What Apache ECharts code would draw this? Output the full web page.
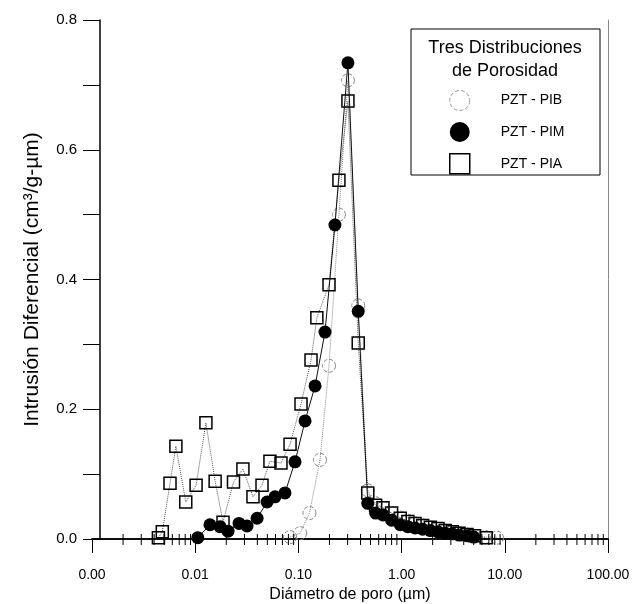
<!DOCTYPE html>
<html>
<head>
<meta charset="utf-8">
<script src="https://cdn.jsdelivr.net/npm/echarts@6/dist/echarts.min.js"></script>
<style>
  html, body { margin: 0; padding: 0; background: #fff; }
  #main { width: 634px; height: 604px; }
</style>
</head>
<body>
<div id="main"></div>
<script>
// Diámetro de poro (µm) y intrusión diferencial para cada muestra
var pibX = [0.083, 0.104, 0.128, 0.162, 0.198, 0.247, 0.302, 0.38, 0.47, 0.56, 0.66, 0.80, 0.97, 1.15, 1.35, 1.6, 1.9, 2.25, 2.65, 3.1, 3.6, 4.3, 5.1, 6.5, 8.4];
var pibY = [0.003, 0.009, 0.040, 0.122, 0.267, 0.500, 0.707, 0.360, 0.075, 0.055, 0.048, 0.040, 0.033, 0.028, 0.024, 0.021, 0.018, 0.016, 0.013, 0.011, 0.009, 0.007, 0.005, 0.003, 0.002];

var pimX = [0.0106, 0.0139, 0.0174, 0.0208, 0.0266, 0.0318, 0.0398, 0.0497, 0.0593, 0.0741, 0.0927, 0.116, 0.145, 0.181, 0.226, 0.302, 0.38, 0.47, 0.56, 0.66, 0.80, 0.97, 1.15, 1.35, 1.6, 1.9, 2.25, 2.65, 3.1, 3.6, 4.3, 5.0];
var pimY = [0.002, 0.022, 0.019, 0.012, 0.024, 0.020, 0.032, 0.057, 0.065, 0.071, 0.119, 0.182, 0.236, 0.319, 0.484, 0.734, 0.351, 0.055, 0.040, 0.037, 0.029, 0.022, 0.019, 0.017, 0.015, 0.013, 0.011, 0.009, 0.008, 0.006, 0.005, 0.003];

var piaX = [0.0044, 0.0048, 0.0057, 0.0065, 0.0081, 0.0102, 0.0127, 0.0156, 0.0186, 0.0235, 0.029, 0.0363, 0.0444, 0.053, 0.0678, 0.083, 0.106, 0.1325, 0.151, 0.198, 0.247, 0.302, 0.38, 0.47, 0.56, 0.66, 0.80, 0.97, 1.15, 1.35, 1.6, 1.9, 2.25, 2.65, 3.1, 3.6, 4.3, 5.1, 6.6];
var piaY = [0.002, 0.011, 0.086, 0.143, 0.057, 0.083, 0.179, 0.089, 0.026, 0.088, 0.108, 0.065, 0.083, 0.120, 0.117, 0.146, 0.208, 0.276, 0.341, 0.392, 0.553, 0.675, 0.302, 0.071, 0.052, 0.048, 0.040, 0.032, 0.027, 0.024, 0.021, 0.018, 0.016, 0.013, 0.011, 0.009, 0.007, 0.005, 0.002];

var seriesNames = ['PZT - PIB', 'PZT - PIM', 'PZT - PIA'];
var legendTitle = 'Tres Distribuciones\nde Porosidad';

function pairs(xs, ys) {
  return xs.map(function (x, i) { return [x, ys[i]]; });
}

// marcas menores del eje log (2..9 por década)
var minorTicks = [];
for (var n = -3; n <= 1; n++) {
  for (var k = 2; k <= 9; k++) {
    minorTicks.push([k * Math.pow(10, n), 0]);
  }
}

var font = 'Liberation Sans, Arial, sans-serif';
var myChart = echarts.init(document.getElementById('main'));

var option = {
  backgroundColor: '#fff',
  animation: false,
  grid: { left: 92, right: 26, top: 20, bottom: 65, outerBoundsMode: 'none', containLabel: false },
  xAxis: [{
    type: 'log',
    logBase: 10,
    min: 0.001,
    max: 100,
    name: 'Diámetro de poro (µm)',
    nameLocation: 'middle',
    nameGap: 47,
    nameTextStyle: { fontFamily: font, fontSize: 16, color: '#000' },
    axisLine: { show: true, lineStyle: { color: '#000', width: 1.5 } },
    axisTick: { show: true, length: 14, lineStyle: { color: '#000', width: 1 } },
    axisLabel: {
      margin: 29,
      fontFamily: font, fontSize: 14, color: '#000',
      formatter: function (v) { return v.toFixed(2); }
    },
    splitLine: { show: false }
  }, {
    type: 'log',
    logBase: 10,
    min: 0.001,
    max: 100,
    position: 'top',
    axisLine: { show: true, lineStyle: { color: '#000', width: 1.5 } },
    axisTick: { show: false },
    axisLabel: { show: false },
    splitLine: { show: false }
  }],
  yAxis: [{
    type: 'value',
    min: 0,
    max: 0.8,
    interval: 0.2,
    offset: -8,
    name: 'Intrusión Diferencial (cm³/g-µm)',
    nameLocation: 'middle',
    nameGap: 57,
    nameTextStyle: { fontFamily: font, fontSize: 21, color: '#000' },
    axisLine: { show: true, lineStyle: { color: '#000', width: 1.5 } },
    axisTick: { show: true, length: 17, lineStyle: { color: '#000', width: 1 } },
    minorTick: { show: true, splitNumber: 2, length: 17, lineStyle: { color: '#000', width: 1 } },
    axisLabel: {
      margin: 23,
      fontFamily: font, fontSize: 15, color: '#000',
      formatter: function (v) { return v.toFixed(1); }
    },
    splitLine: { show: false }
  }, {
    type: 'value',
    min: 0,
    max: 0.8,
    position: 'right',
    axisLine: { show: true, lineStyle: { color: '#888', width: 1 } },
    axisTick: { show: false },
    axisLabel: { show: false },
    splitLine: { show: false }
  }],
  legend: {
    orient: 'vertical',
    left: 449,
    top: 90,
    padding: 0,
    itemGap: 11,
    itemWidth: 20,
    itemHeight: 20,
    textStyle: { fontFamily: font, fontSize: 14, color: '#000', padding: [0, 0, 0, 26] },
    data: [
      { name: seriesNames[0], icon: 'circle', itemStyle: { color: '#fff', borderColor: '#999', borderWidth: 1, borderType: 'dashed' } },
      { name: seriesNames[1], icon: 'circle', itemStyle: { color: '#000', borderColor: '#000', borderWidth: 0 } },
      { name: seriesNames[2], icon: 'rect', itemStyle: { color: '#fff', borderColor: '#000', borderWidth: 1.5 } }
    ]
  },
  graphic: [{
    type: 'rect',
    shape: { x: 411, y: 29, width: 189, height: 146 },
    style: { fill: '#fff', stroke: '#000', lineWidth: 1 },
    z: 0
  }, {
    type: 'text',
    x: 505,
    y: 37,
    style: {
      text: legendTitle,
      fontFamily: font, fontSize: 18, fill: '#000',
      align: 'center', lineHeight: 23
    },
    z: 1
  }],
  series: [{
    name: seriesNames[0],
    type: 'line',
    data: pairs(pibX, pibY),
    symbol: 'circle',
    symbolSize: 13,
    itemStyle: { color: 'rgba(255,255,255,0)', borderColor: '#888', borderWidth: 1, borderType: 'dashed' },
    lineStyle: { color: '#888', width: 1, type: 'dotted' },
    z: 3
  }, {
    name: seriesNames[2],
    type: 'line',
    data: pairs(piaX, piaY),
    symbol: 'rect',
    symbolSize: 12,
    itemStyle: { color: 'rgba(255,255,255,0)', borderColor: '#000', borderWidth: 1.5 },
    lineStyle: { color: '#555', width: 1, type: 'dotted' },
    z: 4
  }, {
    name: seriesNames[1],
    type: 'line',
    data: pairs(pimX, pimY),
    symbol: 'circle',
    symbolSize: 13,
    itemStyle: { color: '#000', borderColor: '#000', borderWidth: 0 },
    lineStyle: { color: '#111', width: 1 },
    z: 5
  }, {
    type: 'custom',
    silent: true,
    clip: false,
    data: minorTicks,
    renderItem: function (params, api) {
      var p = api.coord([api.value(0), 0]);
      return {
        type: 'line',
        shape: { x1: p[0], y1: p[1] - 5, x2: p[0], y2: p[1] + 6 },
        style: { stroke: '#000', lineWidth: 1 }
      };
    },
    z: 6
  }]
};

myChart.setOption(option);
</script>
</body>
</html>
